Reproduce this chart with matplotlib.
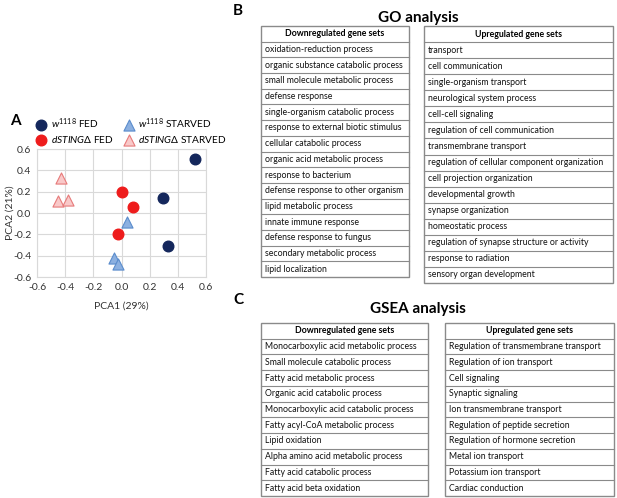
import matplotlib
matplotlib.use("Agg")
import matplotlib.pyplot as plt
from matplotlib.patches import Rectangle

plt.rcParams['font.family'] = ['Lato', 'DejaVu Sans']
plt.rcParams['axes.unicode_minus'] = False
plt.rcParams['mathtext.fontset'] = 'custom'
plt.rcParams['mathtext.it'] = 'Lato:italic'
plt.rcParams['mathtext.rm'] = 'Lato'
plt.rcParams['mathtext.fallback'] = 'stixsans'

# ---------------- data ----------------
w_fed_x = [0.524, 0.295, 0.328]
w_fed_y = [0.506, 0.136, -0.312]
d_fed_x = [0.006, 0.082, -0.022]
d_fed_y = [0.199, 0.052, -0.196]
w_starved_x = [0.041, -0.056, -0.022]
w_starved_y = [-0.083, -0.420, -0.480]
d_starved_x = [-0.432, -0.453, -0.382]
d_starved_y = [0.324, 0.114, 0.120]
axis_ticks = [-0.6, -0.4, -0.2, 0.0, 0.2, 0.4, 0.6]

go_down = ["oxidation-reduction process", "organic substance catabolic process",
           "small molecule metabolic process", "defense response",
           "single-organism catabolic process", "response to external biotic stimulus",
           "cellular catabolic process", "organic acid metabolic process",
           "response to bacterium", "defense response to other organism",
           "lipid metabolic process", "innate immune response",
           "defense response to fungus", "secondary metabolic process",
           "lipid localization"]
go_up = ["transport", "cell communication", "single-organism transport",
         "neurological system process", "cell-cell signaling",
         "regulation of cell communication", "transmembrane transport",
         "regulation of cellular component organization", "cell projection organization",
         "developmental growth", "synapse organization", "homeostatic process",
         "regulation of synapse structure or activity", "response to radiation",
         "sensory organ development"]
gsea_down = ["Monocarboxylic acid metabolic process", "Small molecule catabolic process",
             "Fatty acid metabolic process", "Organic acid catabolic process",
             "Monocarboxylic acid catabolic process", "Fatty acyl-CoA metabolic process",
             "Lipid oxidation", "Alpha amino acid metabolic process",
             "Fatty acid catabolic process", "Fatty acid beta oxidation"]
gsea_up = ["Regulation of transmembrane transport", "Regulation of ion transport",
           "Cell signaling", "Synaptic signaling", "Ion transmembrane transport",
           "Regulation of peptide secretion", "Regulation of hormone secretion",
           "Metal ion transport", "Potassium ion transport", "Cardiac conduction"]
header_down = "Downregulated gene sets"
header_up = "Upregulated gene sets"

W, H = 617, 498
fig = plt.figure(figsize=(W / 100, H / 100), dpi=100)

# overlay axes in pixel coordinates
ov = fig.add_axes([0, 0, 1, 1])
ov.set_xlim(0, W)
ov.set_ylim(H, 0)
ov.axis('off')

# ---------------- panel A ----------------
ax = fig.add_axes([37 / W, 1 - 277 / H, 169 / W, 128 / H])
ax.set_xlim(-0.6, 0.6)
ax.set_ylim(-0.6, 0.6)
ax.set_xticks(axis_ticks)
ax.set_yticks(axis_ticks)
ax.set_xticklabels([f"{v:.1f}" for v in axis_ticks])
ax.set_yticklabels([f"{v:.1f}" for v in axis_ticks])
ax.tick_params(length=0, labelsize=7.5, pad=4, colors='#333333')
ax.grid(True, color='#d9d9d9', lw=0.8)
ax.set_axisbelow(True)
for s in ax.spines.values():
    s.set_color('#d9d9d9')
    s.set_linewidth(0.8)

ax.scatter(w_fed_x, w_fed_y, s=58, marker='o', color='#14275c', zorder=3,
           label=r'$\mathit{w}^{\mathit{1118}}$ FED')
ax.scatter(d_fed_x, d_fed_y, s=58, marker='o', color='#ee1c1c', zorder=3,
           label=r'$\mathit{dSTING\Delta}$ FED')
ax.scatter(w_starved_x, w_starved_y, s=64, marker='^', facecolor='#8cb0e0',
           edgecolor='#5a8ccc', linewidth=0.8, zorder=3,
           label=r'$\mathit{w}^{\mathit{1118}}$ STARVED')
ax.scatter(d_starved_x, d_starved_y, s=64, marker='^', facecolor='#f9c9c9',
           edgecolor='#e77a7a', linewidth=0.8, zorder=3,
           label=r'$\mathit{dSTING\Delta}$ STARVED')
ax.legend(ncol=2, loc='lower left', bbox_to_anchor=(-0.01, 1.03), frameon=False,
          fontsize=7.3, handletextpad=0.3, columnspacing=0.9, labelspacing=0.3,
          borderaxespad=0, borderpad=0, handlelength=1.2)
ax.set_xlabel('PCA1 (29%)', fontsize=7.5, color='#333333', labelpad=7)
ax.set_ylabel('PCA2 (21%)', fontsize=7.5, color='#333333')
ax.yaxis.set_label_coords(-0.135, 0.5)

ov.text(10, 121, 'A', fontsize=11, fontweight='bold', va='center', ha='left')

# ---------------- tables ----------------
line_col = '#8a8a8a'


def draw_table(x0, x1, top, bottom, header, items, fs=6.3):
    n = len(items) + 1
    rh = (bottom - top) / n
    ov.add_patch(Rectangle((x0, top), x1 - x0, bottom - top, fill=False,
                           edgecolor=line_col, lw=1.0))
    for i in range(1, n):
        y = top + i * rh
        ov.plot([x0, x1], [y, y], color=line_col, lw=0.8)
    ov.text((x0 + x1) / 2, top + rh / 2, header, fontsize=fs, fontweight='bold',
            ha='center', va='center')
    for i, t in enumerate(items):
        ov.text(x0 + 4, top + (i + 1.5) * rh, t, fontsize=fs, ha='left',
                va='center', color='#111111')


ov.text(233, 11, 'B', fontsize=11, fontweight='bold', va='center', ha='left')
ov.text(418, 18, 'GO analysis', fontsize=11, fontweight='bold', va='center', ha='center')
draw_table(261, 409, 26, 277, header_down, go_down)
draw_table(424, 613, 26, 283, header_up, go_up)

ov.text(233, 300, 'C', fontsize=11, fontweight='bold', va='center', ha='left')
ov.text(418, 309, 'GSEA analysis', fontsize=11, fontweight='bold', va='center', ha='center')
draw_table(261, 428, 323, 496, header_down, gsea_down)
draw_table(445, 614, 323, 496, header_up, gsea_up)

fig.savefig('out.png', dpi=100)
